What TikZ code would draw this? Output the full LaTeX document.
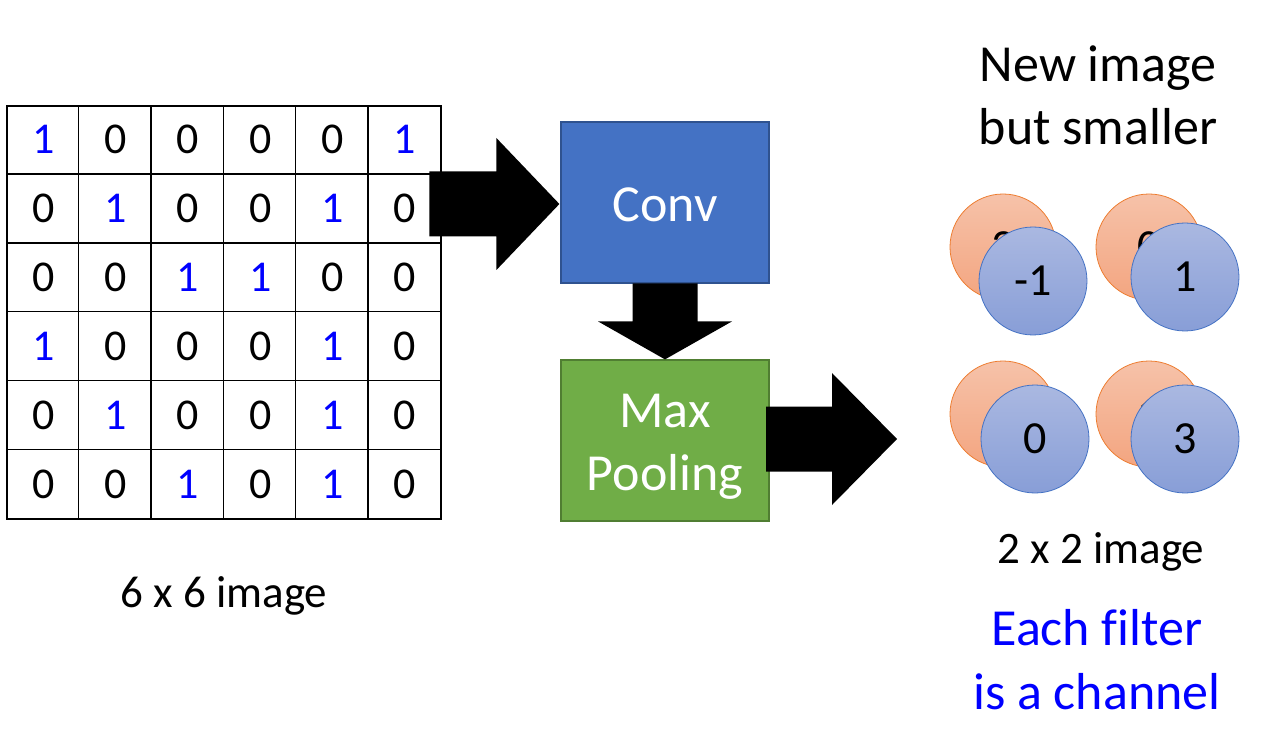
\documentclass[tikz,border=0pt]{standalone}
\usepackage{fontspec}
\setmainfont{Carlito}[Ligatures=NoCommon]
\usetikzlibrary{calc}
\definecolor{convfill}{HTML}{4472C4}
\definecolor{convline}{HTML}{2F528F}
\definecolor{poolfill}{HTML}{70AD47}
\definecolor{poolline}{HTML}{507E32}
\definecolor{orgtop}{RGB}{246,194,169}
\definecolor{orgbot}{RGB}{243,165,128}
\definecolor{orgline}{HTML}{ED7D31}
\definecolor{blutop}{RGB}{170,184,225}
\definecolor{blubot}{RGB}{136,158,215}
\definecolor{bluline}{HTML}{4472C4}
\definecolor{pureblue}{RGB}{0,0,255}
\newcommand{\bigtxt}{\fontsize{52}{63}\selectfont}
\newcommand{\midtxt}{\fontsize{45}{54}\selectfont}
\newcommand{\celltxt}{\fontsize{44}{52}\selectfont}
\newcommand{\circtxt}{\fontsize{46}{54}\selectfont}
\tikzset{
  cellnum/.style={anchor=base, font=\celltxt, inner sep=0pt},
  one/.style={cellnum, text=pureblue},
  zero/.style={cellnum, text=black},
  procbox/.style={draw, line width=1.2pt, minimum width=208pt, minimum height=161pt, inner sep=0pt, text=white, font=\bigtxt, align=center},
  orangec/.style={circle, draw=orgline, line width=0.8pt, top color=orgtop, bottom color=orgbot, minimum size=106pt, inner sep=0pt, font=\circtxt},
  bluec/.style={circle, draw=bluline, line width=0.8pt, top color=blutop, bottom color=blubot, minimum size=108pt, inner sep=0pt, font=\circtxt},
  blockarrow/.style={fill=black, draw=none},
  lbl/.style={anchor=base, inner sep=0pt, align=center}
}
\begin{document}
\begin{tikzpicture}[x=1pt,y=-1pt]
\useasboundingbox (0,0) rectangle (1262,730);

% 6x6 grid
\node[draw, line width=1.5pt, minimum width=434pt, minimum height=413pt, inner sep=0pt] (grid) at (224,312.5) {};
\foreach \i in {1,...,5} {
  \draw[line width=1.3pt] ($(grid.north west)+(72.33*\i,0)$) -- ($(grid.south west)+(72.33*\i,0)$);
  \draw[line width=1.3pt] ($(grid.north west)+(0,68.83*\i)$) -- ($(grid.north east)+(0,68.83*\i)$);
}
\foreach \row [count=\r from 0] in {{1,0,0,0,0,1},{0,1,0,0,1,0},{0,0,1,1,0,0},{1,0,0,0,1,0},{0,1,0,0,1,0},{0,0,1,0,1,0}} {
  \foreach \v [count=\c from 0] in \row {
    \ifnum\v=1
      \node[one] (c\r\c) at (7+72.33*\c+36.17, 106+68.83*\r+34.4+13.5) {1};
    \else
      \node[zero] (c\r\c) at (7+72.33*\c+36.17, 106+68.83*\r+34.4+13.5) {0};
    \fi
  }
}
\node[lbl, font=\midtxt] (lblsix) at (224,607) {6 x 6 image};

% process boxes
\node[procbox, fill=convfill, draw=convline] (conv) at (665,202.5) {};
\node[lbl, font=\bigtxt, text=white] (convtxt) at (665,222) {Conv};
\node[procbox, fill=poolfill, draw=poolline] (pool) at (665,440.5) {};
\node[lbl, font=\bigtxt, text=white] (pooltxtA) at (665,427) {Max};
\node[lbl, font=\bigtxt, text=white] (pooltxtB) at (665,490) {Pooling};

% block arrows
\coordinate (a1tip) at ($(conv.west)+(-1,1.5)$);
\fill[blockarrow] ($(a1tip)+(-130,-32.5)$) -- ($(a1tip)+(-63,-32.5)$) -- ($(a1tip)+(-63,-66)$) -- (a1tip) -- ($(a1tip)+(-63,66)$) -- ($(a1tip)+(-63,32.5)$) -- ($(a1tip)+(-130,32.5)$) -- cycle;
\coordinate (a2tip) at ($(pool.center)+(232,-1.5)$);
\fill[blockarrow] ($(a2tip)+(-131,-32.5)$) -- ($(a2tip)+(-65,-32.5)$) -- ($(a2tip)+(-65,-66)$) -- (a2tip) -- ($(a2tip)+(-65,66)$) -- ($(a2tip)+(-65,32.5)$) -- ($(a2tip)+(-131,32.5)$) -- cycle;
\coordinate (a3tip) at (pool.north);
\fill[blockarrow] ($(a3tip)+(-32.5,-76)$) -- ($(a3tip)+(-32.5,-38)$) -- ($(a3tip)+(-67,-38)$) -- (a3tip) -- ($(a3tip)+(67,-38)$) -- ($(a3tip)+(32.5,-38)$) -- ($(a3tip)+(32.5,-76)$) -- cycle;

% output channels
\node[orangec] (o1) at (1003,247) {3};
\node[orangec] (o2) at (1149,247) {0};
\node[orangec] (o3) at (1003,414) {3};
\node[orangec] (o4) at (1149,414) {1};
\node[bluec] (b1) at (1033,281) {-1};
\node[bluec] (b2) at (1185,277) {1};
\node[bluec] (b3) at (1035,439) {0};
\node[bluec] (b4) at (1185,439) {3};

% labels
\node[lbl, font=\bigtxt] (newA) at (1098,82) {New image};
\node[lbl, font=\bigtxt] (newB) at (1098,145) {but smaller};
\node[lbl, font=\midtxt] (lbltwo) at (1101,563) {2 x 2 image};
\node[lbl, font=\bigtxt, text=pureblue] (eachA) at (1097,645) {Each filter};
\node[lbl, font=\bigtxt, text=pureblue] (eachB) at (1097,709) {is a channel};
\end{tikzpicture}
\end{document}
